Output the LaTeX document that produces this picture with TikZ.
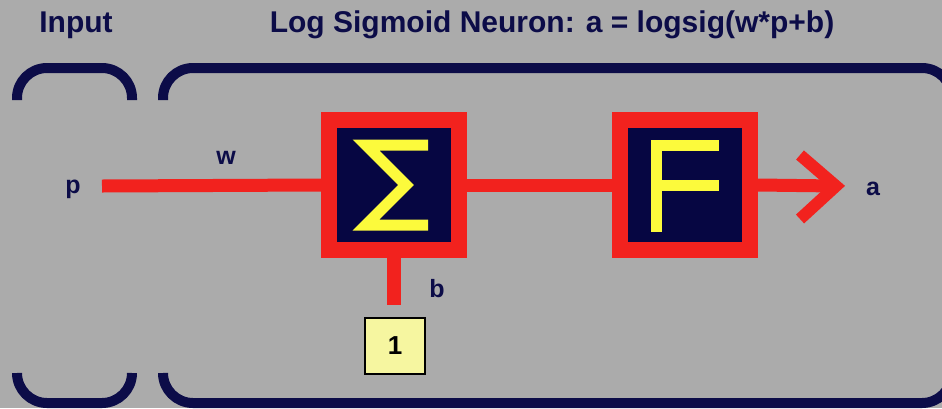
\documentclass[tikz,border=0pt]{standalone}
\usepackage{fontspec}
\setmainfont{Liberation Sans}
\usetikzlibrary{arrows.meta,calc}
\definecolor{bggray}{RGB}{171,171,171}
\definecolor{navyc}{RGB}{12,12,72}
\definecolor{boxnavy}{RGB}{6,6,66}
\definecolor{redc}{RGB}{242,34,30}
\definecolor{yel}{RGB}{252,250,60}
\definecolor{paleyel}{RGB}{246,246,160}
\tikzset{
  lbl/.style={text=navyc, font=\bfseries\fontsize{25}{25}\selectfont, inner sep=0pt},
  ttl/.style={text=navyc, font=\bfseries\fontsize{30}{30}\selectfont, inner sep=0pt},
  procbox/.style={draw=redc, line width=16pt, fill=boxnavy, minimum size=130pt, inner sep=0pt},
  wire/.style={draw=redc, line width=13pt},
  brace/.style={draw=navyc, line width=10pt, rounded corners=30pt},
  glyph/.style={draw=yel, line width=11pt},
  onebox/.style={draw=black, line width=2pt, fill=paleyel, minimum width=60pt, minimum height=56pt, inner sep=0pt, font=\bfseries\fontsize{26}{26}\selectfont}
}
\begin{document}
\begin{tikzpicture}[x=1pt,y=-1pt]
\useasboundingbox (0,0) rectangle (942,408);
\clip (0,0) rectangle (942,408);
\fill[bggray] (0,0) rectangle (942,408);
% titles
\node[ttl] (tin) at (76,25) {Input};
\node[ttl] (ttitle) at (552,25) {Log Sigmoid Neuron: a = logsig(w*p+b)};
% brackets
\draw[brace] (17,100) -- (17,68) -- (132,68) -- (132,100);
\draw[brace] (17,373) -- (17,403) -- (132,403) -- (132,373);
\draw[brace] (163,100) -- (163,68) -- (952,68) -- (952,100);
\draw[brace] (163,373) -- (163,403) -- (952,403) -- (952,373);
% nodes
\node[procbox] (sum) at (394,185) {};
\node[procbox] (ff) at (685,185) {};
\node[onebox] (one) at (395,346) {1};
\coordinate (pin) at (102,186);
\coordinate (aout) at (836,186);
\node[lbl] (p) at (73,189) {p};
\node[lbl] (w) at (226,158) {w};
\node[lbl] (a) at (873,189) {a};
\node[lbl] (b) at (437,289) {b};
% wires
\draw[wire] (pin) -- (sum.west);
\draw[wire] (sum.east) -- (ff.west);
\draw[wire, line width=14pt] (sum.south) -- (sum.south |- 0,305);
\draw[wire] (ff.east) -- (aout);
\draw[draw=redc, line width=12pt, line join=miter] ($(aout)+(-36,-31)$) -- (aout) -- ($(aout)+(-36,33)$);
% sigma glyph
\draw[glyph, line join=miter] ($(sum.center)+(34,-40)$) -- ($(sum.center)+(-28,-40)$) -- ($(sum.center)+(12,0)$) -- ($(sum.center)+(-28,40)$) -- ($(sum.center)+(34,40)$);
% F glyph
\draw[glyph] ($(ff.center)+(34,-40)$) -- ($(ff.center)+(-29,-40)$) -- ($(ff.center)+(-29,47)$);
\draw[glyph] ($(ff.center)+(-29,0)$) -- ($(ff.center)+(34,0)$);
\end{tikzpicture}
\end{document}
